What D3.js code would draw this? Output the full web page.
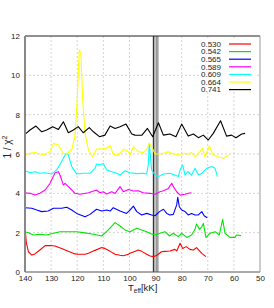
<!DOCTYPE html>
<html>
<head>
<meta charset="utf-8">
<script src="https://cdn.jsdelivr.net/npm/d3@7"></script>
<style>
  body { margin: 0; background: #fff; }
  text { font-family: "Liberation Sans", Arial, sans-serif; fill: #222; }
</style>
</head>
<body>
<script>
// series labels and colours (legend order)
const labels = ['0.530', '0.542', '0.565', '0.589', '0.609', '0.664', '0.741'];
const colors = ['#ff0000', '#00e600', '#0000ff', '#ff00ff', '#00ffff', '#ffff00', '#000000'];

const xTicks = [140, 130, 120, 110, 100, 90, 80, 70, 60, 50];
const yTicks = [0, 2, 4, 6, 8, 10, 12];

// marked Teff band (kK)
const band = [88.7, 90.8];

// [Teff, 1/chi^2]
const s530 = [[140,2.3],[139.5,1.5],[138.7,1.03],[137.4,0.86],[136.2,0.92],[134.3,1.12],[132.3,1.34],[130.4,1.35],[128.5,1.32],[126,1.2],[123.4,1.05],[120.9,0.92],[119.6,0.9],[117,0.9],[115.7,0.95],[113.2,1.1],[110.6,1.24],[109.4,1.2],[107.4,1.05],[105.5,0.9],[103.6,0.85],[102.3,0.83],[100.4,0.9],[99.8,0.95],[98.5,1.02],[96.6,1.12],[95.3,1.05],[93.4,0.9],[92.1,0.81],[90.8,0.78],[89.5,0.85],[87.7,1.03],[86.4,1.05],[84.5,1.07],[82.6,1.15],[81.9,1.07],[80.6,1.46],[79.6,1.2],[78.3,1.29],[76.8,1.15],[75.5,1.12],[74.3,1.24],[72.3,0.95],[70.7,0.78]];
const s542 = [[140,2.05],[138.7,2.0],[136.8,1.88],[134.3,1.92],[131.7,1.88],[129.1,1.97],[126.6,2.05],[120.2,2.05],[117.7,2.0],[113.8,1.92],[110.6,1.83],[108.1,2.14],[105.5,2.51],[103.6,2.34],[101.7,2.14],[99.8,2.05],[97.2,2.22],[95.3,2.14],[93.4,2.05],[91.5,1.93],[90.2,1.88],[88.3,1.97],[86.4,2.05],[84.7,1.83],[83.2,1.97],[81.3,1.8],[80,1.97],[78.1,1.76],[76.2,1.88],[74.9,2.17],[74.3,2.44],[73.2,2.17],[72.3,2.3],[71.7,2.47],[70.7,1.76],[69.1,1.97],[67.2,2.05],[65.6,1.88],[64.3,2.68],[63.4,1.97],[61.5,1.76],[59.6,1.76],[59,1.88],[57.3,1.85]];
const s565 = [[140,3.27],[137.4,3.24],[135.5,3.15],[133.6,3.07],[131.1,3.1],[129.1,3.24],[126,3.24],[124,3.29],[122.1,3.15],[120.2,2.98],[117,2.81],[115.1,2.93],[112.6,3.19],[110.6,3.1],[108.7,3.15],[107.4,3.1],[106.2,3.27],[103.6,3.1],[101.1,2.98],[99.8,3.15],[98.5,3.35],[97.2,3.07],[95.3,2.9],[93.4,2.98],[91.5,2.9],[90.2,2.86],[88.5,3.07],[87,3.19],[85.7,2.98],[84.5,2.9],[83.2,2.93],[81.9,3.41],[81.5,3.8],[80.9,3.32],[80,3.15],[78.7,3.07],[77.5,2.9],[76.2,2.98],[74.9,2.9],[73.6,2.9],[72.3,3.07],[71.4,2.86],[70.2,2.76]];
const s589 = [[140,4.03],[138.1,4.0],[136.2,3.91],[134.3,4.0],[132.3,4.17],[130.4,4.51],[128.5,5.05],[127.2,5.1],[126.6,4.93],[125.3,4.42],[124.7,4.51],[123.4,4.34],[122.1,4.17],[120.9,4.0],[118.9,3.95],[115.7,4.03],[112.6,4.17],[111.3,4.03],[110,4.08],[108.7,3.97],[106.8,4.08],[105.5,4.0],[103.6,4.34],[102.3,4.08],[100.4,4.2],[98.5,4.12],[96.6,4.13],[94.7,4.03],[92.1,4.0],[90.2,3.95],[88.3,4.08],[87,4.13],[85.1,4.25],[83.8,4.51],[83.2,4.34],[81.9,4.08],[80.6,3.91],[78.7,3.95],[77.5,4.0],[76.2,4.03]];
const s609 = [[140,5.15],[138.1,5.05],[136.2,5.1],[134.3,5.02],[132.3,5.05],[129.8,4.98],[127.9,5.19],[126,5.61],[124.7,5.95],[124,6.03],[123.4,5.95],[122.1,5.36],[120.2,4.98],[117.7,5.02],[115.1,5.02],[113.2,5.27],[112.6,5.49],[111.3,5.44],[110,5.52],[108.7,5.19],[106.8,5.1],[104.9,5.02],[103.6,4.93],[101.7,5.15],[99.8,5.05],[97.2,5.0],[94.7,5.02],[93.4,4.98],[92.8,5.44],[92.4,6.54],[91.9,5.8],[91.5,5.19],[90.2,4.93],[88.9,4.85],[87,4.98],[84.5,5.02],[82.6,4.93],[81.3,4.85],[80.6,5.19],[79.6,5.44],[78.7,4.93],[77.5,5.1],[76.2,4.93],[74.9,5.27],[73.6,4.93],[72.3,5.02],[70.4,5.27],[68.5,5.36],[67.2,5.27],[66.3,4.85]];
const s664 = [[140,5.98],[138.1,6.03],[136.2,6.07],[134.3,6.0],[132.3,5.98],[130.4,6.12],[129.1,6.54],[127.2,6.46],[125.3,6.03],[124,6.0],[122.1,6.24],[120.9,6.88],[120,8.74],[119.2,11.29],[118.6,11.12],[117.9,8.74],[117,7.05],[115.7,6.2],[114.1,5.86],[112.6,6.25],[110.6,6.25],[109,6.29],[107.4,6.42],[106.2,5.98],[104.3,5.93],[102.3,6.25],[100.4,6.12],[99.8,5.95],[98.5,6.37],[96.6,6.12],[94.7,6.07],[93.4,6.24],[92.4,6.54],[91.5,6.37],[90.2,6.0],[88.9,6.0],[87,6.03],[85.1,6.12],[83.2,6.0],[81.3,5.95],[79.4,6.03],[77.5,6.0],[76.2,6.07],[74.9,5.86],[73,6.12],[72,6.29],[71.1,5.86],[69.4,6.41],[68.1,5.98],[66,5.86],[64,5.78],[61.5,5.98]];
const s741 = [[140,7.0],[138.1,7.22],[135.8,7.42],[133.6,7.13],[131.7,7.22],[129.4,7.39],[127.2,7.25],[125.3,7.64],[123.4,7.08],[121.5,7.22],[119.6,7.39],[117.7,7.08],[115.4,7.34],[113.8,7.13],[111.5,6.88],[109.4,6.96],[107.4,7.42],[105.5,7.3],[103.6,7.39],[101.3,7.52],[99.1,7.02],[97.9,6.96],[95.3,6.95],[93.1,7.3],[91.1,6.88],[88.9,7.59],[87,6.96],[84.5,7.02],[82.2,6.88],[80,7.52],[77.5,6.91],[75.5,7.02],[73.6,6.83],[71.7,6.96],[69.8,6.71],[67.9,7.05],[65.1,7.69],[62.8,6.91],[60.9,6.96],[59.2,6.83],[57,7.02],[55.7,7.05]];

const series = [s530, s542, s565, s589, s609, s664, s741];

const W = 274, H = 308;
const m = { left: 25, right: 260, top: 36, bottom: 272 };

const x = d3.scaleLinear().domain([140, 50]).range([m.left, m.right]);
const y = d3.scaleLinear().domain([0, 12]).range([m.bottom, m.top]);

const svg = d3.select('body').append('svg')
  .attr('width', W)
  .attr('height', H);

// grid
let gGrid = svg.append('g')
  .attr('stroke', '#c8c8c8')
  .attr('stroke-width', 0.8)
  .attr('stroke-dasharray', '2,2');

gGrid.selectAll('.gx').data(xTicks.slice(1, -1)).join('line')
  .attr('x1', d => x(d)).attr('x2', d => x(d))
  .attr('y1', m.top).attr('y2', m.bottom);

gGrid.selectAll('.gy').data(yTicks.slice(1, -1)).join('line')
  .attr('x1', m.left).attr('x2', m.right)
  .attr('y1', d => y(d)).attr('y2', d => y(d));

// marked band
svg.append('rect')
  .attr('x', x(band[1]))
  .attr('y', m.top)
  .attr('width', x(band[0]) - x(band[1]))
  .attr('height', m.bottom - m.top)
  .attr('fill', '#c4c4c4');
svg.append('line')
  .attr('x1', x(band[1])).attr('x2', x(band[1]))
  .attr('y1', m.top).attr('y2', m.bottom)
  .attr('stroke', '#333').attr('stroke-width', 1.3);
svg.append('line')
  .attr('x1', x(band[0]) - 2).attr('x2', x(band[0]) - 2)
  .attr('y1', m.top).attr('y2', m.bottom)
  .attr('stroke', '#777').attr('stroke-width', 1);

// data lines
const line = d3.line().x(d => x(d[0])).y(d => y(d[1]));

svg.append('g').selectAll('path').data(series).join('path')
  .attr('d', line)
  .attr('fill', 'none')
  .attr('stroke', (d, i) => colors[i])
  .attr('stroke-width', 1.1)
  .attr('stroke-linejoin', 'round');

// frame
svg.append('line').attr('x1', m.left).attr('x2', m.right).attr('y1', m.top).attr('y2', m.top)
  .attr('stroke', '#222').attr('stroke-width', 1);
svg.append('line').attr('x1', m.left).attr('x2', m.right).attr('y1', m.bottom).attr('y2', m.bottom)
  .attr('stroke', '#555').attr('stroke-width', 1);
svg.append('line').attr('x1', m.right).attr('x2', m.right).attr('y1', m.top).attr('y2', m.bottom)
  .attr('stroke', '#999').attr('stroke-width', 1);
svg.append('line').attr('x1', m.left).attr('x2', m.left).attr('y1', m.top).attr('y2', m.bottom)
  .attr('stroke', '#888').attr('stroke-width', 2);

// axes
const xAxis = d3.axisBottom(x).tickValues(xTicks).tickSize(0).tickPadding(3);
const yAxis = d3.axisLeft(y).tickValues(yTicks).tickSize(0).tickPadding(5);

let gx = svg.append('g').attr('transform', `translate(0,${m.bottom})`).call(xAxis);
let gy = svg.append('g').attr('transform', `translate(${m.left},0)`).call(yAxis);
[gx, gy].forEach(g => {
  g.select('.domain').remove();
  g.selectAll('text').attr('font-size', 8).attr('fill', '#222')
    .attr('font-family', '"Liberation Sans", Arial, sans-serif');
});

// axis titles
svg.append('text')
  .attr('x', 128).attr('y', 291)
  .attr('font-size', 9.5)
  .html('T<tspan font-size="6.5" dy="2">eff</tspan><tspan dy="-2">[kK]</tspan>');

svg.append('text')
  .attr('transform', 'translate(11,147) rotate(-90)')
  .attr('text-anchor', 'middle')
  .attr('font-size', 10)
  .html('1 / χ<tspan font-size="7" dy="-4">2</tspan>');

// legend
let gLegend = svg.append('g');
gLegend.append('rect')
  .attr('x', 204).attr('y', 39).attr('width', 53).attr('height', 53)
  .attr('fill', '#fff');

labels.forEach(function (lab, i) {
  let ly = 44 + i * 7.6;
  gLegend.append('text')
    .attr('x', 221).attr('y', ly + 2.8)
    .attr('text-anchor', 'end')
    .attr('font-size', 8)
    .text(lab);
  gLegend.append('line')
    .attr('x1', 229).attr('x2', 251)
    .attr('y1', ly).attr('y2', ly)
    .attr('stroke', colors[i])
    .attr('stroke-width', 1.2);
});
</script>
</body>
</html>
